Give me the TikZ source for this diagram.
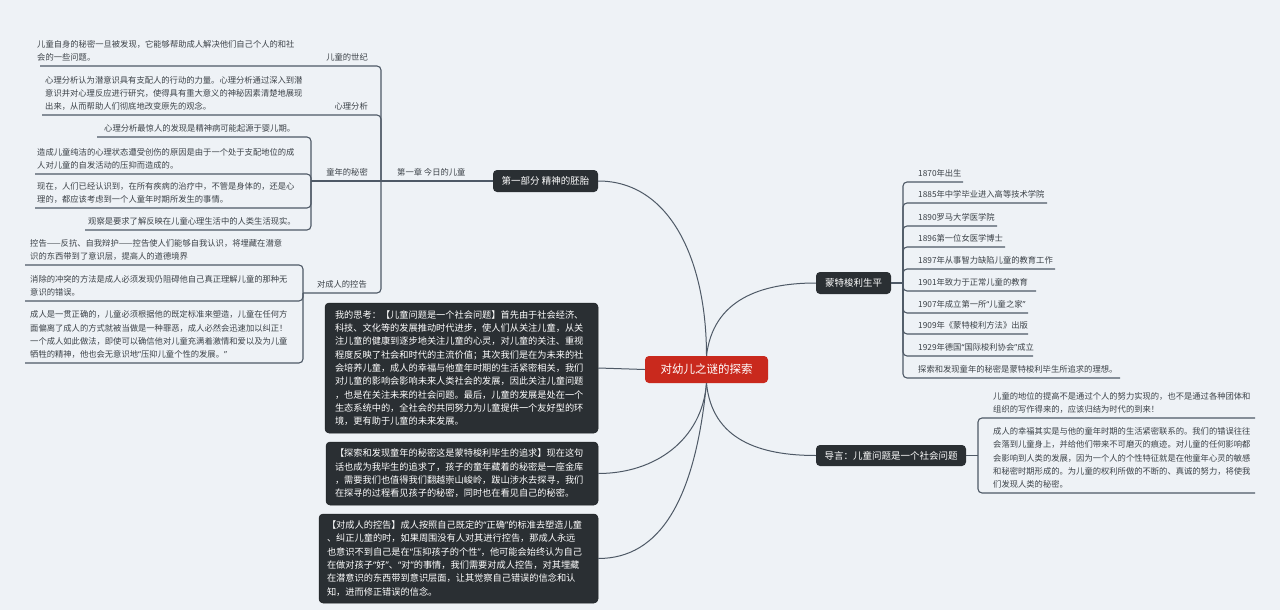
\documentclass[tikz,border=0pt]{standalone}
\usepackage{fontspec}
\setmainfont{Noto Sans CJK SC}
\newfontfamily\qfont{Noto Sans}
\newcommand\oq{{\qfont “}}
\newcommand\cq{{\qfont ”}}
\definecolor{bg}{HTML}{EEF2F6}
\definecolor{ln}{HTML}{4E5966}
\definecolor{dk}{HTML}{2A2F33}
\definecolor{rd}{HTML}{C9291D}
\definecolor{gt}{HTML}{3C4248}
\tikzset{
  gtext/.style={font=\fontsize{8.3}{13.2}\selectfont, text=gt, inner sep=0pt},
  darkbox/.style={fill=dk, draw=dk!70!black, line width=0.5pt, rounded corners=4pt, text=white,
    font=\fontsize{9.2}{13.3}\selectfont, align=left, inner ysep=0pt},
  mainnode/.style={fill=dk, rounded corners=4pt, text=white, font=\fontsize{9.5}{11}\selectfont, inner sep=0pt},
  rootnode/.style={fill=rd, rounded corners=4pt, text=white, font=\fontsize{11.5}{13}\selectfont, inner sep=0pt},
  conn/.style={draw=ln, line width=1pt},
  branch/.style={draw=ln, line width=1.1pt, rounded corners=4pt},
}
\begin{document}
\begin{tikzpicture}[x=1pt,y=-1pt]
\fill[bg] (0,0) rectangle (1280,610);
\useasboundingbox (0,0) rectangle (1280,610);

% root and main topics
\node[rootnode, minimum width=123pt, minimum height=27pt] (c) at (706.5,369.5) {对幼儿之谜的探索};
\node[mainnode, minimum width=105pt, minimum height=22pt] (f1) at (545.5,181) {第一部分 精神的胚胎};
\node[mainnode, minimum width=75pt, minimum height=22pt] (m) at (853.5,283) {蒙特梭利生平};
\node[mainnode, minimum width=150pt, minimum height=21pt] (d) at (891,455.5) {导言：儿童问题是一个社会问题};

% dark text blocks
\node[darkbox, text width=253pt, inner xsep=10pt, minimum height=130pt] (b1) at (461.5,368) {%
我的思考：【儿童问题是一个社会问题】首先由于社会经济、\\
科技、文化等的发展推动时代进步，使人们从关注儿童，从关\\
注儿童的健康到逐步地关注儿童的心灵，对儿童的关注、重视\\
程度反映了社会和时代的主流价值；其次我们是在为未来的社\\
会培养儿童，成人的幸福与他童年时期的生活紧密相关，我们\\
对儿童的影响会影响未来人类社会的发展，因此关注儿童问题\\
，也是在关注未来的社会问题。最后，儿童的发展是处在一个\\
生态系统中的，全社会的共同努力为儿童提供一个友好型的环\\
境，更有助于儿童的未来发展。};
\node[darkbox, text width=254pt, inner xsep=9pt, minimum height=63pt] (b2) at (462,473.5) {%
【探索和发现童年的秘密这是蒙特梭利毕生的追求】现在这句\\
话也成为我毕生的追求了，孩子的童年藏着的秘密是一座金库\\
，需要我们也值得我们翻越崇山峻岭，跋山涉水去探寻，我们\\
在探寻的过程看见孩子的秘密，同时也在看见自己的秘密。};
\node[darkbox, text width=263pt, inner xsep=8pt, minimum height=89pt] (b3) at (458.5,558.5) {%
【对成人的控告】成人按照自己既定的\oq 正确\cq 的标准去塑造儿童\\
、纠正儿童的时，如果周围没有人对其进行控告，那成人永远\\
也意识不到自己是在\oq 压抑孩子的个性\cq ，他可能会始终认为自己\\
在做对孩子\oq 好\cq 、\oq 对\cq 的事情，我们需要对成人控告，对其埋藏\\
在潜意识的东西带到意识层面，让其觉察自己错误的信念和认\\
知，进而修正错误的信念。};

% main connectors
\draw[conn] (c.north) .. controls (706.5,260) and (670,181) .. (f1.east);
\draw[conn] (c.north) .. controls (713,300) and (760,283) .. (m.west);
\draw[conn] (c.south) .. controls (712,440) and (760,455.5) .. (d.west);
\draw[conn] (c.west) -- (b1.east);
\draw[conn] (c.south) .. controls (702,440) and (655,473.5) .. (b2.east);
\draw[conn] (c.south) .. controls (695,500) and (660,558.5) .. (b3.east);

% left structure
\coordinate (jA) at (381,181);
\coordinate (jB) at (311,181);
\coordinate (jC) at (303,293);
\draw[branch] (40,66) -- (381,66) -- (381,293) -- (jC);
\draw[branch] (42,115) -- (381,115) -- (jA);
\draw[branch] (jB) -- (jA) -- (f1.west);
\draw[branch] (97,137) -- (311,137) -- (311,230) -- (85,230);
\draw[branch] (35,174) -- (311,174) -- (jB);
\draw[branch] (35,208) -- (311,208) -- (jB);
\draw[branch] (25,265) -- (303,265) -- (303,363) -- (25,363);
\draw[branch] (25,301) -- (303,301) -- (jC);

\node[gtext, anchor=base west] (t1) at (397,175.5) {第一章 今日的儿童};
\node[gtext, anchor=base east] (t2) at (368,60.5) {儿童的世纪};
\node[gtext, anchor=base east] (t3) at (368,109.5) {心理分析};
\node[gtext, anchor=base east] (t4) at (368,175.5) {童年的秘密};
\node[gtext, anchor=base east] (t5) at (367,287.5) {对成人的控告};

\node[gtext, anchor=base west] (tA) at (37,60.5) {\vbox{%
\hbox{儿童自身的秘密一旦被发现，它能够帮助成人解决他们自己个人的和社}%
\hbox{会的一些问题。}}};
\node[gtext, anchor=base west] (tC) at (45,109.5) {\vbox{%
\hbox{心理分析认为潜意识具有支配人的行动的力量。心理分析通过深入到潜}%
\hbox{意识并对心理反应进行研究，使得具有重大意义的神秘因素清楚地展现}%
\hbox{出来，从而帮助人们彻底地改变原先的观念。}}};
\node[gtext, anchor=base west] (tE) at (104,131.5) {心理分析最惊人的发现是精神病可能起源于婴儿期。};
\node[gtext, anchor=base west] (tF) at (37,168.5) {\vbox{%
\hbox{造成儿童纯洁的心理状态遭受创伤的原因是由于一个处于支配地位的成}%
\hbox{人对儿童的自发活动的压抑而造成的。}}};
\node[gtext, anchor=base west] (tG) at (37,202.5) {\vbox{%
\hbox{现在，人们已经认识到，在所有疾病的治疗中，不管是身体的，还是心}%
\hbox{理的，都应该考虑到一个人童年时期所发生的事情。}}};
\node[gtext, anchor=base west] (tH) at (88,224.5) {观察是要求了解反映在儿童心理生活中的人类生活现实。};
\node[gtext, anchor=base west] (tK) at (30,259.5) {\vbox{%
\hbox{控告——反抗、自我辩护——控告使人们能够自我认识，将埋藏在潜意}%
\hbox{识的东西带到了意识层，提高人的道德境界}}};
\node[gtext, anchor=base west] (tL) at (30,295.5) {\vbox{%
\hbox{消除的冲突的方法是成人必须发现仍阻碍他自己真正理解儿童的那种无}%
\hbox{意识的错误。}}};
\node[gtext, anchor=base west] (tM) at (30,357.5) {\vbox{%
\hbox{成人是一贯正确的，儿童必须根据他的既定标准来塑造，儿童在任何方}%
\hbox{面偏离了成人的方式就被当做是一种罪恶，成人必然会迅速加以纠正！}%
\hbox{一个成人如此做法，即使可以确信他对儿童充满着激情和爱以及为儿童}%
\hbox{牺牲的精神，他也会无意识地\oq 压抑儿童个性的发展。\cq}}};

% right: Montessori timeline
\draw[branch] (m.east) -- (903,283);
\draw[branch] (963,182) -- (903,182) -- (903,378) -- (1120,378);
\foreach \yy/\ee in {203/1047, 226/997, 247/1005, 269/1055, 291/1036, 313/1028, 334/1028, 356/1033}
  \draw[branch] (\ee,\yy) -- (903,\yy) -- (903,283);
\foreach \yy/\tt [count=\i] in {182/1870年出生, 203/1885年中学毕业进入高等技术学院, 226/1890罗马大学医学院,
  247/1896第一位女医学博士, 269/1897年从事智力缺陷儿童的教育工作, 291/1901年致力于正常儿童的教育,
  313/1907年成立第一所\oq 儿童之家\cq, 334/1909年《蒙特梭利方法》出版, 356/1929年德国\oq 国际梭利协会\cq 成立,
  378/探索和发现童年的秘密是蒙特梭利毕生所追求的理想。}
  \node[gtext, anchor=base west] (r\i) at (918,\yy-5.5) {\tt};

% right: introduction
\draw[branch] (d.east) -- (978,455.5);
\draw[branch] (1255,418) -- (978,418) -- (978,493) -- (1255,493);
\node[gtext, anchor=base west] (dA) at (993,412.5) {\vbox{%
\hbox{儿童的地位的提高不是通过个人的努力实现的，也不是通过各种团体和}%
\hbox{组织的写作得来的，应该归结为时代的到来！}}};
\node[gtext, anchor=base west] (dB) at (993,487.5) {\vbox{%
\hbox{成人的幸福其实是与他的童年时期的生活紧密联系的。我们的错误往往}%
\hbox{会落到儿童身上，并给他们带来不可磨灭的痕迹。对儿童的任何影响都}%
\hbox{会影响到人类的发展，因为一个人的个性特征就是在他童年心灵的敏感}%
\hbox{和秘密时期形成的。为儿童的权利所做的不断的、真诚的努力，将使我}%
\hbox{们发现人类的秘密。}}};
\end{tikzpicture}
\end{document}
